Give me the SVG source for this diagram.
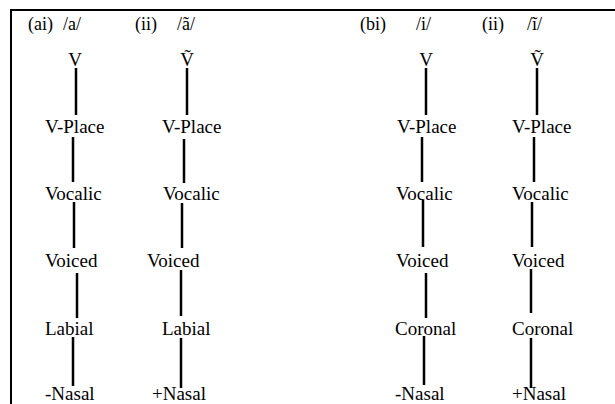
<svg xmlns="http://www.w3.org/2000/svg" width="615" height="404" viewBox="0 0 615 404">
<style>
text{font-family:"Liberation Serif","Times New Roman",serif;font-size:19px;fill:#000}
.h{font-size:18px}
.c{text-anchor:middle}
.e{stroke:#000;stroke-width:2.5;fill:none}
.b{stroke:#000;stroke-width:2;fill:none}
</style>
<rect width="615" height="404" fill="#fff"/>
<g id="frame"><path class="b" d="M11 404V10H615"/></g>
<g id="headers">
<text class="h" x="28" y="30">(ai)</text><text class="h" x="63" y="30">/a/</text>
<text class="h" x="135" y="30">(ii)</text><text class="h" x="177" y="30">/ã/</text>
<text class="h" x="360" y="30">(bi)</text><text class="h" x="416" y="30">/i/</text>
<text class="h" x="482" y="30">(ii)</text><text class="h" x="527" y="30">/ĩ/</text>
</g>
<g id="connectors">
<path class="e" d="M76 68V115M73 137V182M74 202V248M77 273V318M73 337V386"/>
<path class="e" d="M187 68V115M184 139V183M182 203V248M181 270V316M181 338V388"/>
<path class="e" d="M426 68V115M422 137V182M423 200V247M426 273V318M424 336V385"/>
<path class="e" d="M537 68V115M534 137V182M532 202V247M531 269V313M531 338V388"/>
</g>
<g id="col-ai">
<text class="c" x="75" y="66">V</text>
<text x="45" y="133">V-Place</text>
<text x="45" y="200">Vocalic</text>
<text x="45" y="267">Voiced</text>
<text x="45" y="335">Labial</text>
<text x="45" y="400">-Nasal</text>
</g>
<g id="col-aii">
<text class="c" x="187" y="66">Ṽ</text>
<text x="162" y="133">V-Place</text>
<text x="163" y="200">Vocalic</text>
<text x="147" y="267">Voiced</text>
<text x="162" y="335">Labial</text>
<text x="152" y="400">+Nasal</text>
</g>
<g id="col-bi">
<text class="c" x="426" y="66">V</text>
<text x="397" y="133">V-Place</text>
<text x="396" y="200">Vocalic</text>
<text x="396" y="267">Voiced</text>
<text x="395" y="335">Coronal</text>
<text x="395" y="400">-Nasal</text>
</g>
<g id="col-bii">
<text class="c" x="537" y="66">Ṽ</text>
<text x="512" y="133">V-Place</text>
<text x="512" y="200">Vocalic</text>
<text x="512" y="267">Voiced</text>
<text x="512" y="335">Coronal</text>
<text x="512" y="400">+Nasal</text>
</g>
</svg>
